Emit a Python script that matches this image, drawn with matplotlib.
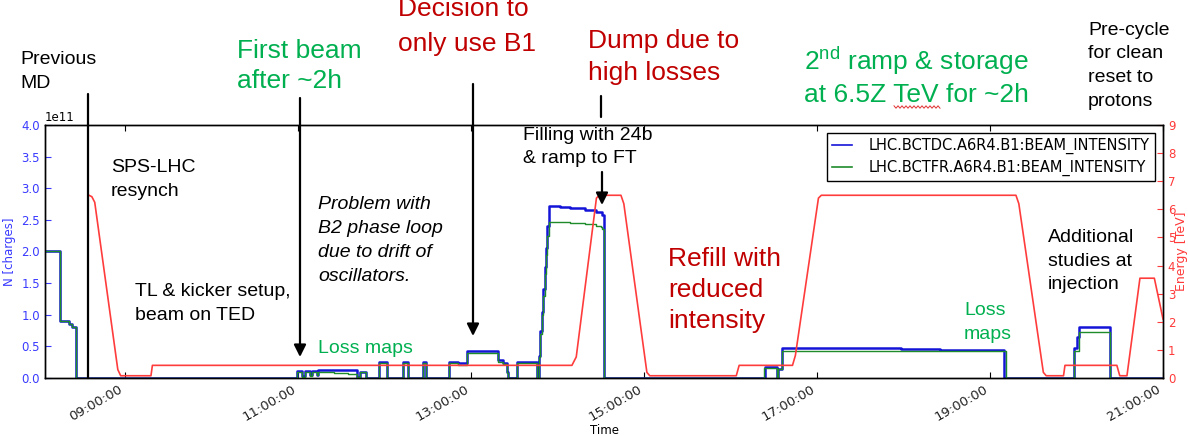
import matplotlib
matplotlib.use("Agg")
import matplotlib.pyplot as plt
import matplotlib.dates as mdates
from matplotlib.lines import Line2D
from matplotlib.patches import FancyArrowPatch
import numpy as np
import pandas as pd

W, H = 1188, 436
DAY = "2018-11-09"

# Beam 1 intensity from the DC current transformer (step changes, units of 1e11 charges)
bctdc_times = ["08:04", "08:15", "08:21", "08:23", "08:26",
               "10:59", "11:03", "11:05", "11:08", "11:10", "11:13", "11:14", "11:29", "11:41", "11:43", "11:47",
               "11:56", "12:02", "12:13", "12:16", "12:27", "12:29",
               "12:45", "12:51", "12:57", "13:19", "13:22", "13:25", "13:26", "13:32", "13:46",
               "13:47", "13:48", "13:49", "13:50", "13:51", "13:52", "13:53", "13:54",
               "14:02", "14:09", "14:19", "14:27", "14:31", "14:32",
               "16:24", "16:32", "16:33", "16:36", "17:58", "18:25", "18:39", "19:10",
               "19:58", "20:00", "20:02", "20:23", "21:00"]
bctdc_e11 = [2.00, 0.90, 0.86, 0.80, 0.00,
             0.11, 0.03, 0.11, 0.04, 0.11, 0.05, 0.13, 0.12, 0.02, 0.10, 0.00,
             0.26, 0.00, 0.25, 0.00, 0.25, 0.00,
             0.26, 0.23, 0.43, 0.28, 0.24, 0.10, 0.00, 0.25, 0.00,
             0.35, 0.75, 1.05, 1.40, 1.75, 2.05, 2.40, 2.72,
             2.71, 2.68, 2.66, 2.62, 2.58, 0.00,
             0.17, 0.00, 0.15, 0.47, 0.46, 0.45, 0.44, 0.00,
             0.47, 0.65, 0.81, 0.00, 0.00]

# Beam 1 intensity from the fast transformer
bctfr_times = ["08:04", "08:15", "08:21", "08:23", "08:26",
               "10:59", "11:03", "11:05", "11:08", "11:10", "11:13", "11:14", "11:25", "11:35", "11:41", "11:43", "11:47",
               "11:56", "12:02", "12:13", "12:16", "12:27", "12:29",
               "12:45", "12:51", "12:57", "13:19", "13:22", "13:25", "13:26", "13:32", "13:46",
               "13:47", "13:48", "13:49", "13:50", "13:51", "13:52", "13:53", "13:54",
               "14:09", "14:19", "14:27", "14:30", "14:31", "14:32",
               "16:23", "16:32", "16:33", "16:36", "18:00", "19:11",
               "19:58", "20:02", "20:23", "21:00"]
bctfr_e11 = [2.00, 0.90, 0.86, 0.80, 0.00,
             0.10, 0.02, 0.10, 0.03, 0.10, 0.04, 0.10, 0.08, 0.06, 0.02, 0.09, 0.00,
             0.24, 0.00, 0.24, 0.00, 0.24, 0.00,
             0.24, 0.21, 0.40, 0.26, 0.22, 0.08, 0.00, 0.24, 0.00,
             0.33, 0.70, 1.00, 1.30, 1.65, 1.95, 2.25, 2.47,
             2.45, 2.43, 2.41, 2.38, 2.36, 0.00,
             0.16, 0.00, 0.14, 0.43, 0.42, 0.00,
             0.43, 0.73, 0.00, 0.00]

# Beam energy [TeV]
energy_times = ["08:35", "08:37", "08:39", "08:55", "08:57", "09:18", "09:19",
                "14:10", "14:13", "14:27", "14:29", "14:44", "14:46", "15:02", "15:04",
                "16:04", "16:06", "16:43", "16:45", "17:01", "17:03", "19:18", "19:20", "19:37", "19:39",
                "19:51", "19:52", "20:28", "20:30", "20:35", "20:44", "20:54", "21:00"]
energy_tev = [6.50, 6.45, 6.25, 0.30, 0.08, 0.08, 0.45,
              0.45, 0.75, 6.40, 6.50, 6.50, 6.20, 0.20, 0.08,
              0.08, 0.45, 0.45, 0.80, 6.40, 6.50, 6.50, 6.20, 0.20, 0.08,
              0.08, 0.45, 0.45, 0.08, 0.08, 3.55, 3.55, 2.10]

series_labels = ["LHC.BCTDC.A6R4.B1:BEAM_INTENSITY", "LHC.BCTFR.A6R4.B1:BEAM_INTENSITY"]


def stamps(times):
    return pd.to_datetime([f"{DAY} {t}" for t in times])


plt.rcParams["font.family"] = ["DejaVu Sans"]
plt.rcParams["mathtext.fontset"] = "custom"
plt.rcParams["mathtext.rm"] = "Liberation Sans"

BLUE_TXT = "#3a3aff"
RED_TXT = "#ff3a3a"
TICK_SIZE = 8.5

fig = plt.figure(figsize=(W / 100, H / 100), dpi=100)
ax = fig.add_axes([45 / W, 1 - 378 / H, (1163 - 45) / W, (378 - 125) / H])

l1, = ax.plot(stamps(bctdc_times), np.array(bctdc_e11) * 1e11, drawstyle="steps-post",
              color="#1414d8", lw=1.8, label=series_labels[0], zorder=2)
l2, = ax.plot(stamps(bctfr_times), np.array(bctfr_e11) * 1e11, drawstyle="steps-post",
              color="#1e8c2a", lw=1.0, label=series_labels[1], zorder=3)

ax.set_ylim(0, 4e11)
ax.set_yticks(np.arange(0, 4.01e11, 0.5e11))
ax.set_xlim(pd.Timestamp(f"{DAY} 08:04:30"), pd.Timestamp(f"{DAY} 21:00"))
ax.xaxis.set_major_locator(mdates.HourLocator(byhour=range(9, 22, 2)))
ax.xaxis.set_major_formatter(mdates.DateFormatter("%H:%M:%S"))
ax.tick_params(axis="x", direction="in", top=True, labelsize=9.5, length=4, labelcolor="#222222")
ax.tick_params(axis="y", direction="in", labelsize=TICK_SIZE, length=4, labelcolor=BLUE_TXT, color=BLUE_TXT)
for lbl in ax.get_xticklabels():
    lbl.set_rotation(30)
    lbl.set_ha("right")
ax.yaxis.get_offset_text().set_color("black")
ax.yaxis.get_offset_text().set_size(TICK_SIZE)
ax.set_ylabel("N [charges]", color=BLUE_TXT, fontsize=TICK_SIZE)
ax.set_xlabel("Time", fontsize=TICK_SIZE, labelpad=0)

ax2 = ax.twinx()
ax2.plot(stamps(energy_times), energy_tev, color="#ff3c3c", lw=1.2)
ax2.set_ylim(0, 9)
ax2.set_yticks(range(10))
ax2.tick_params(axis="y", direction="in", labelsize=TICK_SIZE, length=4, labelcolor=RED_TXT, color=RED_TXT)
ax2.set_ylabel("Energy [TeV]", color=RED_TXT, fontsize=9, labelpad=0)

for a in (ax, ax2):
    for sp in a.spines.values():
        sp.set_color("black")
        sp.set_linewidth(1.0)

leg = ax2.legend([l1, l2], series_labels, loc="upper right", fontsize=10.5, fancybox=False,
                 edgecolor="black", framealpha=1, borderaxespad=0.55, handlelength=1.4,
                 handletextpad=1.15, labelspacing=0.4, borderpad=0.35)
leg.get_frame().set_linewidth(1.0)
for h in leg.get_lines():
    h.set_linewidth(1.2)


# ---- annotations (pixel positions, origin top-left) ----
def fxy(x, y):
    return x / W, 1 - y / H


def block(x, y0, lines, step, **kw):
    for i, s in enumerate(lines):
        fig.text(*fxy(x, y0 + i * step), s, va="baseline", ha="left",
                 family="Liberation Sans", **kw)


def pointer(x, y0, y1, head=True):
    style = "-|>,head_length=0.6,head_width=0.3" if head else "-"
    fig.add_artist(FancyArrowPatch(fxy(x, y0), fxy(x, y1), transform=fig.transFigure,
                                   arrowstyle=style, mutation_scale=12, lw=1.6,
                                   color="black", shrinkA=0, shrinkB=0))


GREEN = "#00b050"
DARKRED = "#c00000"
BIG = 19
SMALL = 14

block(20, 64, ["Previous", "MD"], 24, size=SMALL, color="black")
block(237, 58, ["First beam", "after ~2h"], 30, size=BIG, color=GREEN)
block(398, 16, ["Decision to", "only use B1"], 35, size=BIG, color=DARKRED)
block(588, 48, ["Dump due to", "high losses"], 32, size=BIG, color=DARKRED)
block(804, 70, ["2$^{\\mathrm{nd}}$ ramp & storage", "at 6.5Z TeV for ~2h"], 32, size=BIG, color=GREEN)
block(1088, 35, ["Pre-cycle", "for clean", "reset to", "protons"], 23.5, size=SMALL, color="black")

block(111, 172, ["SPS-LHC", "resynch"], 23.5, size=SMALL, color="black")
block(135, 296, ["TL & kicker setup,", "beam on TED"], 23.5, size=SMALL, color="black")
block(318, 209, ["Problem with", "B2 phase loop", "due to drift of", "oscillators."], 24,
      size=SMALL, color="black", style="italic")
block(523, 140, ["Filling with 24b", "& ramp to FT"], 23, size=14, color="black")
block(668, 266, ["Refill with", "reduced", "intensity"], 31, size=BIG, color=DARKRED)
block(1048, 242, ["Additional", "studies at", "injection"], 23.5, size=SMALL, color="black")
block(318, 353, ["Loss maps"], 23, size=SMALL, color=GREEN)
block(964, 315, ["Loss", "maps"], 23.5, size=SMALL, color=GREEN)

pointer(88, 94, 378, head=False)
pointer(300, 98, 357)
pointer(473, 84, 336)
pointer(601, 96, 117, head=False)
pointer(602, 172, 205)

# spell-check wave under "TeV"
wx = np.arange(894, 942, 2.0)
wy = 107 + np.where(np.arange(len(wx)) % 2, 1.2, -1.2)
fig.add_artist(Line2D(wx / W, 1 - wy / H, transform=fig.transFigure, color="#e03030", lw=0.7))

fig.savefig("out.png", dpi=100, facecolor="white")
